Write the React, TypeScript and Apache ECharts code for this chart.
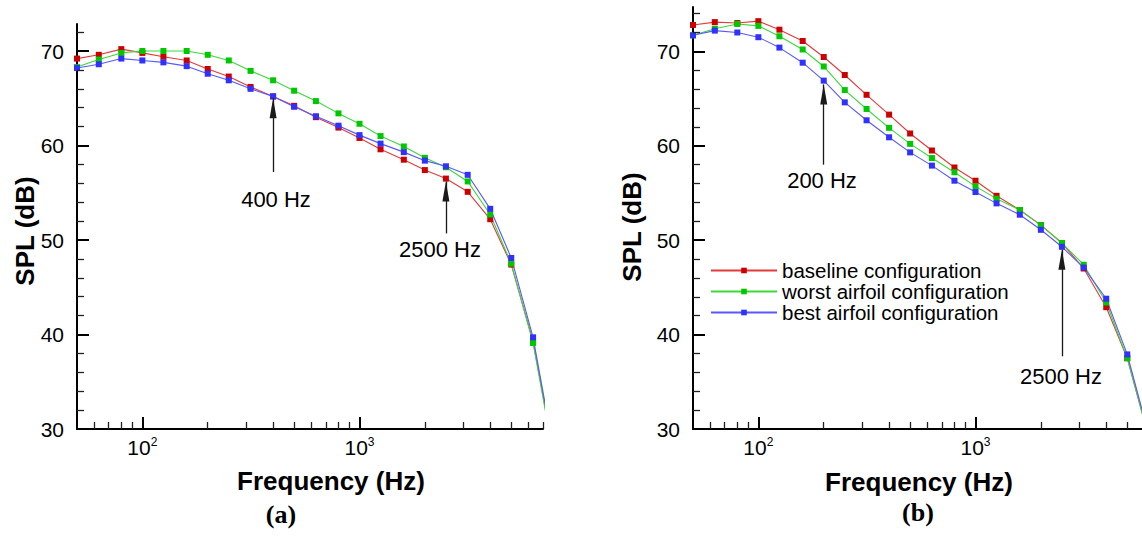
import React, { useEffect, useRef } from 'react';
import * as echarts from 'echarts';

const FONT = '"Liberation Sans", Arial, sans-serif';
const SERIF = '"Liberation Serif", "Times New Roman", serif';

// one-third octave band centre frequencies (Hz)
const freqs = [50, 63, 80, 100, 125, 160, 200, 250, 315, 400, 500, 630, 800, 1000, 1250, 1600, 2000, 2500, 3150, 4000, 5000, 6300, 8000];

// panel (a)
const aBaseline = [69.2, 69.6, 70.2, 69.8, 69.4, 69.0, 68.1, 67.3, 66.2, 65.2, 64.2, 63.0, 61.9, 60.8, 59.6, 58.5, 57.4, 56.5, 55.1, 52.2, 47.4, 39.3, 26.3];
const aWorst = [68.3, 69.1, 69.8, 70.0, 70.0, 70.0, 69.6, 69.0, 67.9, 66.9, 65.8, 64.7, 63.4, 62.3, 61.0, 59.9, 58.7, 57.7, 56.2, 52.7, 47.5, 39.1, 26.0];
const aBest = [68.2, 68.6, 69.2, 69.0, 68.8, 68.4, 67.6, 66.9, 66.0, 65.2, 64.1, 63.1, 62.1, 61.1, 60.2, 59.3, 58.4, 57.8, 56.9, 53.3, 48.1, 39.7, 26.6];

// panel (b)
const bBaseline = [72.8, 73.1, 73.0, 73.2, 72.3, 71.1, 69.4, 67.5, 65.4, 63.3, 61.3, 59.5, 57.7, 56.3, 54.7, 53.2, 51.6, 49.7, 47.0, 42.9, 37.5, 29.0];
const bWorst = [71.7, 72.4, 72.9, 72.7, 71.6, 70.2, 68.4, 65.9, 63.9, 61.9, 60.2, 58.7, 57.2, 55.7, 54.4, 53.2, 51.6, 49.7, 47.4, 43.4, 37.5, 29.0];
const bBest = [71.7, 72.2, 72.0, 71.5, 70.4, 68.8, 66.9, 64.6, 62.7, 60.9, 59.3, 57.9, 56.3, 55.1, 53.9, 52.7, 51.1, 49.3, 47.1, 43.8, 37.9, 29.3];

const seriesNames = ['baseline configuration', 'worst airfoil configuration', 'best airfoil configuration'];

// axis ticks
const xMajorTicks = [100, 1000];
const xMinorTicks = [60, 70, 80, 90, 200, 300, 400, 500, 600, 700, 800, 900, 2000, 3000, 4000, 5000, 6000, 7000];
const yMajorTicks = [30, 40, 50, 60, 70];
const yMinorTicks = [32, 34, 36, 38, 42, 44, 46, 48, 52, 54, 56, 58, 62, 64, 66, 68, 72, 74];

const xMin = 50;
const xMax = 7000;
const yMin = 30;
const yMaxA = 72.86;
const yMaxB = 74.7;

// arrow annotations
const annotationsA = [
  { freq: 400, from: 57.2, to: 65.0, label: '400 Hz' },
  { freq: 2500, from: 50.7, to: 56.2, label: '2500 Hz' },
];
const annotationsB = [
  { freq: 200, from: 58.0, to: 66.5, label: '200 Hz' },
  { freq: 2500, from: 37.7, to: 49.0, label: '2500 Hz' },
];

const markerColors = ['#cc0000', '#00c800', '#3030ff'];
const lineColors = ['#e43a3a', '#3cd83c', '#5858ff'];

const lg = (v: number) => Math.log10(v);
const ARROW = 'path://M5,-20L5,-20M5,0L10,20L0,20Z';

const GRIDS = [
  { left: 77, top: 24, width: 466, height: 405, outerBoundsMode: 'none', containLabel: false },
  { left: 693, top: 7, width: 466, height: 422, outerBoundsMode: 'none', containLabel: false },
];
const Y_MAXES = [yMaxA, yMaxB];

function mainOption() {
  const xAxes: any[] = [];
  const yAxes: any[] = [];
  [0, 1].forEach((g) => {
    xAxes.push({
      type: 'value', gridIndex: g, position: 'bottom', min: lg(xMin), max: lg(xMax),
      axisLine: { show: true, onZero: false, lineStyle: { color: '#000', width: 2 } },
      axisTick: { show: false },
      axisLabel: {
        show: true, margin: 7, customValues: xMajorTicks.map(lg),
        formatter: (v: number) => `{b|10}{s|${Math.round(v)}}`,
        rich: {
          b: { fontSize: 21, fontFamily: FONT, color: '#000', lineHeight: 22 },
          s: { fontSize: 12, fontFamily: FONT, color: '#000', verticalAlign: 'top', lineHeight: 12 },
        },
      },
      splitLine: { show: false },
    });
    yAxes.push({
      type: 'value', gridIndex: g, position: 'left', min: yMin, max: Y_MAXES[g],
      axisLine: { show: true, onZero: false, lineStyle: { color: '#000', width: 2 } },
      axisTick: { show: false },
      axisLabel: { show: true, margin: 13, fontSize: 21, fontFamily: FONT, color: '#000', customValues: yMajorTicks },
      splitLine: { show: false },
    });
  });

  const panels = [
    { data: [aBaseline, aWorst, aBest], notes: annotationsA },
    { data: [bBaseline, bWorst, bBest], notes: annotationsB },
  ];

  const series: any[] = [];
  panels.forEach((p, g) => {
    p.data.forEach((vals, k) => {
      const s: any = {
        type: 'line', name: seriesNames[k], xAxisIndex: g, yAxisIndex: g,
        data: vals.map((v, i) => [lg(freqs[i]), v]),
        symbol: 'rect', symbolSize: 6, showSymbol: true, clip: true,
        itemStyle: { color: markerColors[k] },
        lineStyle: { color: lineColors[k], width: 1.1 },
      };
      if (k === 2) {
        s.markLine = {
          silent: true, animation: false,
          symbol: ['none', ARROW], symbolSize: [7, 40],
          lineStyle: { color: '#1a1a1a', width: 1.3, type: 'solid' },
          label: { show: false },
          data: p.notes.map((n) => [
            { coord: [lg(n.freq), n.from] },
            { coord: [lg(n.freq), n.to] },
          ]),
        };
      }
      series.push(s);
    });
  });

  const txt = (text: string, x: number, y: number, size: number, bold = false, rotation = 0, family = FONT) => ({
    type: 'text', x, y, rotation, silent: true,
    style: { text, fontSize: size, fontWeight: bold ? 'bold' : 'normal', fontFamily: family, fill: '#000', textAlign: 'center', textVerticalAlign: 'middle' },
  });

  const texts = [
    txt('Frequency (Hz)', 331, 481, 26, true),
    txt('Frequency (Hz)', 919, 482, 26, true),
    txt('SPL (dB)', 25, 231, 26, true, Math.PI / 2),
    txt('SPL (dB)', 632, 227, 26, true, Math.PI / 2),
    txt('(a)', 281, 514, 26, true, 0, SERIF),
    txt('(b)', 918, 512, 26, true, 0, SERIF),
    txt(annotationsA[0].label, 276, 199, 22),
    txt(annotationsA[1].label, 440, 249, 22),
    txt(annotationsB[0].label, 822, 180, 22),
    txt(annotationsB[1].label, 1061, 376, 22),
  ];

  return {
    animation: false,
    grid: GRIDS,
    xAxis: xAxes,
    yAxis: yAxes,
    legend: {
      data: seriesNames, orient: 'vertical', left: 710, top: 260,
      itemWidth: 66, itemHeight: 7, itemGap: 0, padding: 0, selectedMode: false,
      textStyle: { fontSize: 20.5, lineHeight: 20, fontFamily: FONT, color: '#000' },
    },
    series,
    graphic: texts,
  };
}

// a plain axes-only overlay that draws inward ticks at the given values
function tickOption(len: number, width: number, color: string, xTicks: number[], yTicks: number[]) {
  return {
    animation: false,
    grid: GRIDS,
    xAxis: [0, 1].map((g) => ({
      type: 'value', gridIndex: g, min: lg(xMin), max: lg(xMax),
      axisLine: { show: false, onZero: false },
      axisTick: { show: true, inside: true, length: len, lineStyle: { color, width }, customValues: xTicks.filter((t) => t <= xMax).map(lg) },
      axisLabel: { show: false },
      splitLine: { show: false },
    })),
    yAxis: [0, 1].map((g) => ({
      type: 'value', gridIndex: g, min: yMin, max: Y_MAXES[g],
      axisLine: { show: false, onZero: false },
      axisTick: { show: true, inside: true, length: len, lineStyle: { color, width }, customValues: yTicks.filter((t) => t < Y_MAXES[g]) },
      axisLabel: { show: false },
      splitLine: { show: false },
    })),
  };
}

const layer: React.CSSProperties = { position: 'absolute', left: 0, top: 0, width: 1142, height: 554 };

export default function App() {
  const mainRef = useRef<HTMLDivElement>(null);
  const majorRef = useRef<HTMLDivElement>(null);
  const minorRef = useRef<HTMLDivElement>(null);

  useEffect(() => {
    if (!mainRef.current || !majorRef.current || !minorRef.current) return;
    const main = echarts.init(mainRef.current, null, { renderer: 'svg' });
    main.setOption(mainOption());
    const major = echarts.init(majorRef.current, null, { renderer: 'svg' });
    major.setOption(tickOption(12, 2, '#000', xMajorTicks, yMajorTicks));
    const minor = echarts.init(minorRef.current, null, { renderer: 'svg' });
    minor.setOption(tickOption(7, 1.3, '#222', xMinorTicks, yMinorTicks));
    return () => {
      main.dispose();
      major.dispose();
      minor.dispose();
    };
  }, []);

  return (
    <div style={{ ...layer, background: '#fff' }}>
      <div ref={mainRef} style={layer} />
      <div ref={majorRef} style={{ ...layer, pointerEvents: 'none' }} />
      <div ref={minorRef} style={{ ...layer, pointerEvents: 'none' }} />
    </div>
  );
}
